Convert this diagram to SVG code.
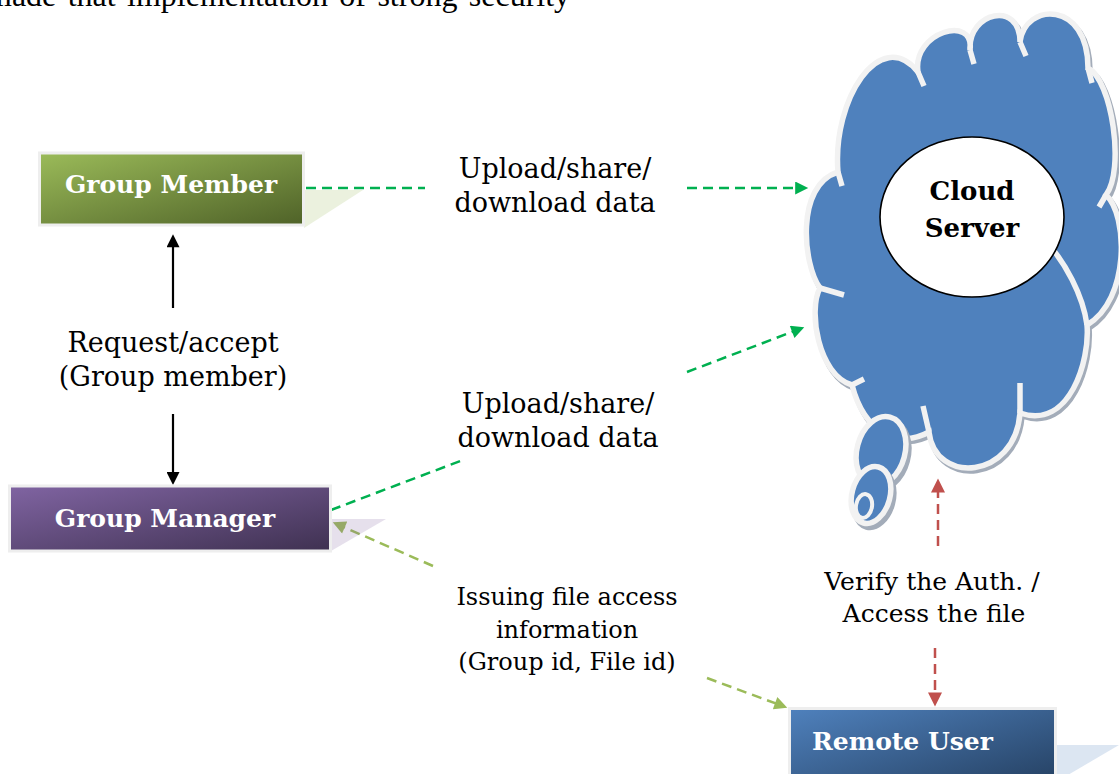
<svg xmlns="http://www.w3.org/2000/svg" width="1119" height="774" viewBox="0 0 1119 774">
<style>
.lbl{font-family:"DejaVu Serif",serif;fill:#000;text-anchor:middle}
.nt{font-family:"DejaVu Serif",serif;font-weight:bold;fill:#fff;font-size:25px}
.ct{font-family:"DejaVu Serif",serif;font-weight:bold;fill:#000;font-size:26px;text-anchor:middle}
.top{font-family:"Liberation Serif",serif;fill:#000;font-size:32px}
.box{stroke:#eeeeee;stroke-width:3}
.dg{stroke:#00b050;stroke-width:2.5;stroke-dasharray:10 6;fill:none}
.dl{stroke:#9bbb59;stroke-width:2.5;stroke-dasharray:10 6;fill:none}
.dr{stroke:#c0504d;stroke-width:2.5;stroke-dasharray:10 6;fill:none}
.bk{stroke:#000;stroke-width:2.2;fill:none}
.cl{fill:#4f81bd;stroke:#f2f2f2;stroke-width:5.5}
.sh{fill:#a3acb9;stroke:#a3acb9;stroke-width:5.5}
.stub{stroke:#f2f2f2;stroke-width:5.5;fill:none}
</style>
<defs>
<linearGradient id="gGreen" x1="0" y1="0" x2="1" y2="1"><stop offset="0" stop-color="#9bbb59"/><stop offset="1" stop-color="#4f6228"/></linearGradient>
<linearGradient id="gPurple" x1="0" y1="0" x2="1" y2="1"><stop offset="0" stop-color="#8064a2"/><stop offset="1" stop-color="#3f3151"/></linearGradient>
<linearGradient id="gBlue" x1="0" y1="0" x2="1" y2="1"><stop offset="0" stop-color="#4f81bd"/><stop offset="1" stop-color="#243f60"/></linearGradient>
<marker id="mG" viewBox="0 0 10 10" refX="6" refY="5" markerWidth="15" markerHeight="13" markerUnits="userSpaceOnUse" orient="auto"><path d="M0,0 L10,5 L0,10 z" fill="#00b050"/></marker>
<marker id="mL" viewBox="0 0 10 10" refX="6" refY="5" markerWidth="15" markerHeight="13" markerUnits="userSpaceOnUse" orient="auto"><path d="M0,0 L10,5 L0,10 z" fill="#9bbb59"/></marker>
<marker id="mR" viewBox="0 0 10 10" refX="6" refY="5" markerWidth="15" markerHeight="14" markerUnits="userSpaceOnUse" orient="auto"><path d="M0,0 L10,5 L0,10 z" fill="#c0504d"/></marker>
<marker id="mB" viewBox="0 0 10 10" refX="6.25" refY="5" markerWidth="16" markerHeight="13" markerUnits="userSpaceOnUse" orient="auto"><path d="M0,0 L10,5 L0,10 z" fill="#000"/></marker>
</defs>
<rect width="1119" height="774" fill="#fff"/>
<text class="top" x="-13" y="6" word-spacing="3.4">made that implementation of strong security</text>

<g id="cloud-server">
<path class="sh" transform="translate(2,3)" d="M 838,172 C 832,100 880,25 918,72 C 912,32 975,14 970,50 C 968,12 1020,0 1020,42 C 1025,2 1088,0 1088,68 C 1112,80 1125,170 1106,195 C 1128,215 1130,300 1087,325 C 1090,360 1070,430 1020,413 C 1015,480 935,485 929,432 C 900,448 865,435 852,385 C 818,375 808,310 820,288 C 803,265 795,185 838,172 Z"/>
<path class="cl" d="M 838,172 C 832,100 880,25 918,72 C 912,32 975,14 970,50 C 968,12 1020,0 1020,42 C 1025,2 1088,0 1088,68 C 1112,80 1125,170 1106,195 C 1128,215 1130,300 1087,325 C 1090,360 1070,430 1020,413 C 1015,480 935,485 929,432 C 900,448 865,435 852,385 C 818,375 808,310 820,288 C 803,265 795,185 838,172 Z"/>
<path class="stub" d="M838,172 L842,186 M918,72 L924,86 M970,50 L974,64 M1020,42 L1026,56 M1088,68 L1092,83 M1106,195 L1099,207 M1020,413 L1020,383 M929,432 L923,406 M852,385 L864,379 M820,288 L844,295"/>
<path class="stub" d="M1045,240 C1065,262 1083,295 1087,325"/>
<ellipse class="sh" cx="884" cy="455" rx="24" ry="35" transform="rotate(15 884 455)"/>
<ellipse class="cl" cx="881" cy="451" rx="24" ry="35" transform="rotate(15 881 451)"/>
<ellipse class="sh" cx="874" cy="499" rx="19" ry="29" transform="rotate(15 874 499)"/>
<ellipse class="cl" cx="871" cy="495" rx="19" ry="29" transform="rotate(15 871 495)"/>
<ellipse class="cl" cx="864" cy="506" rx="8" ry="12" transform="rotate(10 864 506)" style="stroke-width:4"/>
<ellipse cx="972" cy="217" rx="92" ry="80" fill="#fff" stroke="#000" stroke-width="1.6"/>
<text class="ct" x="972" y="200">Cloud</text>
<text class="ct" x="972" y="237">Server</text>
</g>

<g id="connectors">
<line class="dg" x1="306" y1="188" x2="425" y2="188"/>
<line class="dg" x1="687" y1="188" x2="803" y2="188" marker-end="url(#mG)"/>
<line class="dg" x1="331" y1="510" x2="463" y2="460"/>
<line class="dg" x1="687" y1="372" x2="799.4" y2="329.1" marker-end="url(#mG)"/>
<line class="dl" x1="433" y1="566" x2="337.5" y2="524.4" marker-end="url(#mL)"/>
<line class="dl" x1="707" y1="678" x2="782.4" y2="705.9" marker-end="url(#mL)"/>
<line class="dr" x1="938" y1="546" x2="938" y2="484" marker-end="url(#mR)"/>
<line class="dr" x1="935" y1="648" x2="935" y2="701" marker-end="url(#mR)"/>
<line class="bk" x1="173" y1="308" x2="173" y2="239" marker-end="url(#mB)"/>
<line class="bk" x1="173" y1="414" x2="173" y2="480" marker-end="url(#mB)"/>
<text class="lbl" font-size="27" x="555" y="178">Upload/share/</text>
<text class="lbl" font-size="27" x="555" y="212">download data</text>
<text class="lbl" font-size="27" x="558" y="413">Upload/share/</text>
<text class="lbl" font-size="27" x="558" y="447">download data</text>
<text class="lbl" font-size="27" x="173" y="352">Request/accept</text>
<text class="lbl" font-size="27" x="173" y="386">(Group member)</text>
<text class="lbl" font-size="24" x="567" y="605">Issuing file access</text>
<text class="lbl" font-size="24" x="567" y="638">information</text>
<text class="lbl" font-size="24" x="567" y="670">(Group id, File id)</text>
<text class="lbl" font-size="25" x="932" y="590">Verify the Auth. /</text>
<text class="lbl" font-size="25" x="934" y="622">Access the file</text>
</g>

<g id="group-member">
<polygon points="304,190 363,190 304,228" fill="#9bbb59" fill-opacity="0.2"/>
<rect class="box" x="39.5" y="153" width="264" height="72" fill="url(#gGreen)"/>
<text class="nt" x="171" y="193" text-anchor="middle">Group Member</text>
</g>

<g id="group-manager">
<polygon points="331,519 386,519 331,551" fill="#8064a2" fill-opacity="0.2"/>
<rect class="box" x="9.5" y="486" width="321" height="65" fill="url(#gPurple)"/>
<text class="nt" x="165" y="527" text-anchor="middle">Group Manager</text>
</g>

<g id="remote-user">
<polygon points="1056,745 1119,745 1056,782" fill="#4f81bd" fill-opacity="0.2"/>
<rect class="box" x="789.5" y="708.5" width="266" height="80" fill="url(#gBlue)"/>
<text class="nt" x="812" y="750">Remote User</text>
</g>
</svg>
